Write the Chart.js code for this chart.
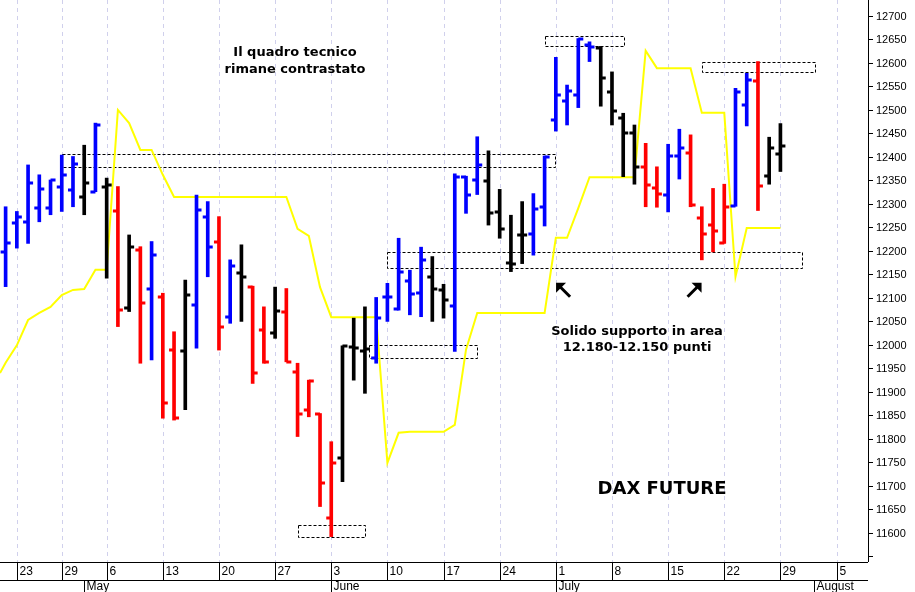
<!DOCTYPE html>
<html><head><meta charset="utf-8">
<script src="https://cdn.jsdelivr.net/npm/chart.js@4"></script>
<style>html,body{margin:0;padding:0;background:#fff}#w{width:915px;height:592px;position:relative}</style>
</head><body><div id="w"><canvas id="c"></canvas></div>
<script>
// trading-day index (0 = 23 April)
const dayIndex=[-1,0,1,2,3,4,5,6,7,8,9,10,11,12,13,14,15,16,17,18,19,20,21,22,23,24,25,26,27,28,29,30,31,32,33,34,35,36,37,38,39,40,41,42,43,44,45,46,47,48,49,50,51,52,53,54,55,56,57,58,59,60,61,62,63,64,65,66,67,68];
const openV=[12198,12259,12262,12291,12291,12337,12330,12315,12326,12337,12284,12078,12202,12120,12103,11989,11986,12085,12273,12220,12060,12152,12124,12032,12025,12069,11943,11862,11853,11631,11759,11996,11986,11972,12101,12076,12135,12110,12145,12116,12083,12357,12351,12349,12283,12175,12234,12237,12294,12479,12518,12532,12638,12631,12539,12482,12450,12379,12333,12319,12402,12409,12271,12255,12216,12295,12510,12562,12359,12406];
const highV=[12294,12284,12383,12362,12351,12404,12401,12425,12472,12355,12337,12234,12209,12220,12110,12028,12138,12319,12305,12273,12181,12213,12125,12081,12123,12120,11961,11925,11854,11794,11998,12057,12081,12101,12131,12227,12159,12208,12188,12129,12364,12359,12443,12413,12331,12276,12305,12322,12402,12612,12553,12652,12645,12635,12581,12493,12468,12429,12379,12427,12459,12447,12294,12333,12342,12546,12578,12603,12442,12471];
const lowV=[12124,12206,12216,12262,12277,12284,12294,12277,12326,12142,12039,12071,11961,11968,11844,11840,11862,11993,12145,11989,12046,12050,11918,11961,12014,11964,11805,11847,11656,11592,11709,11925,11897,11961,12050,12074,12064,12060,12050,12057,11986,12280,12320,12255,12227,12156,12173,12191,12253,12455,12468,12505,12603,12508,12468,12358,12342,12294,12293,12283,12353,12294,12181,12198,12216,12295,12466,12286,12342,12369];
const closeV=[12216,12273,12344,12331,12351,12362,12386,12344,12468,12340,12074,12209,12089,12191,11876,11844,12106,12287,12209,12039,12168,12145,11940,11964,12073,11964,11854,11923,11707,11748,11998,11993,11991,12057,12101,12156,12108,12181,12120,12096,12358,12319,12383,12281,12247,12172,12234,12290,12400,12532,12541,12650,12635,12569,12498,12450,12378,12340,12321,12402,12418,12298,12236,12243,12294,12539,12564,12338,12420,12423];
const signal="BBBBBBBKBKRKRBRRKBBRBKRRKRRRRRKKKBBBBBKKBBBKKKKBBBBBBKKKKRRBBRRRRBBRKK".split("");
const lineX=[-1.5,-1,0,1,2,3,4,5,6,7,8,9,10,11,12,13,14,15,16,17,18,19,20,21,22,23,24,25,26,27,28,29,30,31,32,33,34,35,36,37,38,39,40,41,42,43,44,45,46,47,48,49,50,51,52,53,54,55,56,57,58,59,60,61,62,63,64,65,66,67,68];
const lineV=[11940,11962,11999,12053,12068,12081,12106,12117,12119,12160,12160,12500,12472,12415,12415,12362,12315,12315,12315,12315,12315,12315,12315,12315,12315,12315,12315,12247,12232,12123,12059,12059,12059,12059,12059,11749,11813,11815,11815,11815,11815,11830,11990,12068,12068,12068,12068,12068,12068,12068,12228,12228,12291,12357,12357,12357,12357,12357,12626,12589,12589,12589,12589,12494,12494,12494,12145,12249,12249,12249,12249];
const dayTickIdx=[0,4,8,13,18,23,28,33,38,43,48,53,58,63,68,73];
const dayTickLbl=["23","29","6","13","20","27","3","10","17","24","1","8","15","22","29","5"];
const monthIdx=[6,28,48,71];
const monthLbl=["May","June","July","August"];
const yTickVals=[11550,11600,11650,11700,11750,11800,11850,11900,11950,12000,12050,12100,12150,12200,12250,12300,12350,12400,12450,12500,12550,12600,12650,12700];
// dashed zones: [xFrom, xTo, low, high]
const zones=[[4,47.9,12378,12406],[47,54,12636,12657],[61,71.1,12581,12602],[33,70,12164,12198],[31.4,41,11972,11999],[25,31,11591,11617]];
const colorMap={B:'#0000ff',R:'#ff0000',K:'#000000'};

const deco={id:'deco',
 beforeDatasetsDraw(ch){const {ctx,chartArea:a,scales:{x,y}}=ch;ctx.save();
  ctx.strokeStyle='#d0d0ec';ctx.lineWidth=1;ctx.setLineDash([4,4]);
  dayTickIdx.forEach(i=>{const px=Math.round(x.getPixelForValue(i))+0.5;if(px<a.right){ctx.beginPath();ctx.moveTo(px,a.top);ctx.lineTo(px,a.bottom);ctx.stroke();}});
  ctx.setLineDash([3,2]);ctx.strokeStyle='#000';
  zones.forEach(z=>{const x1=x.getPixelForValue(z[0]),x2=x.getPixelForValue(z[1]),y1=y.getPixelForValue(z[3]),y2=y.getPixelForValue(z[2]);ctx.strokeRect(Math.round(x1)+0.5,Math.round(y1)+0.5,Math.round(x2-x1),Math.round(y2-y1));});
  ctx.restore();},
 afterDatasetsDraw(ch){const {ctx,chartArea:a,scales:{x,y}}=ch;ctx.save();
  ctx.lineWidth=3;
  dayIndex.forEach((d,i)=>{const px=x.getPixelForValue(d);ctx.strokeStyle=colorMap[signal[i]];
   const yo=Math.round(y.getPixelForValue(openV[i])),yc=Math.round(y.getPixelForValue(closeV[i]));
   ctx.beginPath();ctx.moveTo(px-5,yo);ctx.lineTo(px,yo);ctx.moveTo(px,yc);ctx.lineTo(px+5,yc);ctx.stroke();});
  // arrows
  const arrow=(vx,vy,dx,dy)=>{const px=x.getPixelForValue(vx),py=y.getPixelForValue(vy);ctx.strokeStyle='#000';ctx.fillStyle='#000';ctx.lineWidth=3;
   ctx.beginPath();ctx.moveTo(px,py);ctx.lineTo(px+dx*12,py+dy*12);ctx.stroke();
   ctx.beginPath();const tx=px-dx*2,ty=py-dy*2;ctx.moveTo(tx,ty);ctx.lineTo(tx+dx*10,ty);ctx.lineTo(tx,ty+dy*10);ctx.closePath();ctx.fill();};
  arrow(48.2,12128,1,1);arrow(60.8,12128,-1,1);
  // right axis
  ctx.strokeStyle='#000';ctx.lineWidth=1;ctx.fillStyle='#000';
  ctx.beginPath();ctx.moveTo(a.right+0.5,0);ctx.lineTo(a.right+0.5,a.bottom);ctx.stroke();
  ctx.font='11px "Liberation Sans", Arial';ctx.textAlign='left';ctx.textBaseline='middle';
  yTickVals.forEach(v=>{const py=Math.round(y.getPixelForValue(v))+0.5;ctx.beginPath();ctx.moveTo(a.right,py);ctx.lineTo(a.right+5,py);ctx.stroke();if(v>11550)ctx.fillText(String(v),a.right+8,py);});
  // bottom axis
  const b=a.bottom;ctx.font='12px "Liberation Sans", Arial';
  ctx.beginPath();ctx.moveTo(0,b+0.5);ctx.lineTo(a.right,b+0.5);ctx.moveTo(0,b+18.5);ctx.lineTo(a.right,b+18.5);ctx.stroke();
  dayTickIdx.forEach((d,i)=>{const px=Math.round(x.getPixelForValue(d))+0.5;ctx.beginPath();ctx.moveTo(px,b);ctx.lineTo(px,b+18);ctx.stroke();ctx.fillText(dayTickLbl[i],px+2,b+10);});
  monthIdx.forEach((d,i)=>{const px=Math.round(x.getPixelForValue(d))+0.5;ctx.beginPath();ctx.moveTo(px,b+18);ctx.lineTo(px,b+32);ctx.stroke();ctx.fillText(monthLbl[i],px+2,b+25);});
  // texts
  ctx.textAlign='center';ctx.font='bold 13px "DejaVu Sans"';
  ctx.fillText('Il quadro tecnico',295,53);ctx.fillText('rimane contrastato',295,70);
  ctx.fillText('Solido supporto in area',637,332);ctx.fillText('12.180-12.150 punti',637,348);
  ctx.font='bold 18px "DejaVu Sans"';ctx.fillText('DAX FUTURE',662,489);
  ctx.restore();}
};

new Chart(document.getElementById('c'),{
 data:{datasets:[
  {type:'bar',data:dayIndex.map((d,i)=>({x:d,y:[lowV[i],highV[i]]})),backgroundColor:signal.map(s=>colorMap[s]),barThickness:3,borderWidth:0,order:1},
  {type:'line',data:lineX.map((d,i)=>({x:d,y:lineV[i]})),borderColor:'#ffff00',borderWidth:2,pointRadius:0,tension:0,order:2}
 ]},
 options:{responsive:true,maintainAspectRatio:false,animation:false,
  layout:{padding:{left:0,right:47,top:0,bottom:30}},
  plugins:{legend:{display:false},tooltip:{enabled:false}},
  scales:{
   x:{type:'linear',min:-1.5,max:75.8,display:false,offset:false},
   y:{type:'linear',min:11538,max:12734,display:false}
  }},
 plugins:[deco]
});
</script></body></html>
